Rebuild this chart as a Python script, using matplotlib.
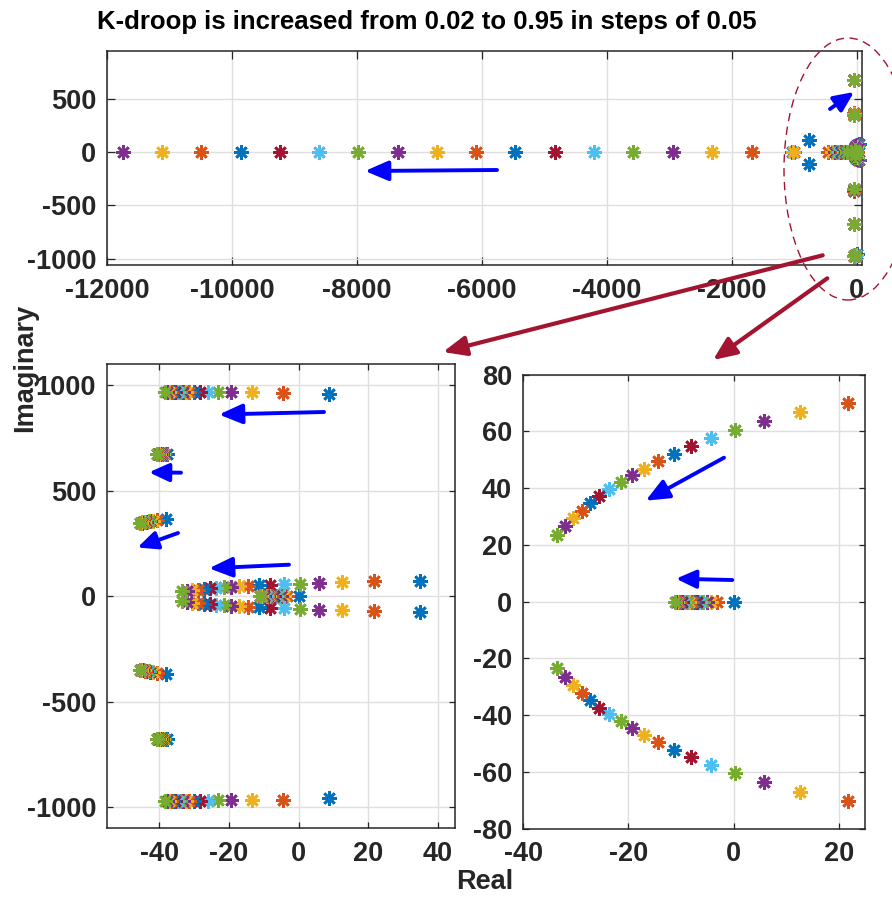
import numpy as np
import matplotlib
matplotlib.use('Agg')
import matplotlib.pyplot as plt
from matplotlib.patches import FancyArrowPatch, Ellipse

plt.rcParams['font.family'] = ['Liberation Sans', 'DejaVu Sans']
plt.rcParams['font.weight'] = 'bold'
plt.rcParams['axes.unicode_minus'] = False

# K-droop sweep (one colour per value, MATLAB colour order)
k_droop = [0.02, 0.07, 0.12, 0.17, 0.22, 0.27, 0.32, 0.37, 0.42, 0.47,
           0.52, 0.57, 0.62, 0.67, 0.72, 0.77, 0.82, 0.87, 0.92]

# fast real pole, moves far to the left
fast_re = [-1030, -1672, -2312, -2948, -3577, -4207, -4836, -5466, -6096, -6721,
           -7350, -7980, -8605, -9235, -9864, -10495, -11120, -11749, -12380]

# pair that splits on the real axis (K1 complex, then real)
split_re_a = [-764, -1005, -1015] + [np.nan] * 16
split_im_a = [110, 0, 0] + [np.nan] * 16
split_re_b = [-764, -455, -400, -350, -310, -280, -255, -235, -220, -205,
              -195, -185, -178, -171, -165, -160, -156, -152, -150]
split_im_b = [-110] + [0] * 18

# complex pair near +/-970
hf_re = [8.9, -4.5, -13.4, -19.5, -23.3, -26.1, -28.3, -30.2, -31.4, -32.4,
         -33.3, -34.1, -34.8, -35.5, -36.1, -36.7, -37.3, -37.9, -38.4]
hf_im = [957, 966, 967, 968, 968, 969, 969, 969, 969, 969,
         969, 969, 969, 969, 969, 969, 969, 969, 969]

# complex pair near +/-680
p680_re = [-37.9, -38.6, -39.0, -39.3, -39.5, -39.7, -39.9, -40.0, -40.1, -40.2,
           -40.3, -40.35, -40.4, -40.45, -40.5, -40.55, -40.6, -40.65, -40.7]
p680_im = [677, 677, 677, 677, 677, 677, 677, 676, 676, 676,
           676, 676, 676, 676, 676, 676, 676, 676, 676]

# complex pair near +/-360
p360_re = [-38.2, -40.8, -41.9, -42.6, -43.1, -43.5, -43.8, -44.1, -44.3, -44.5,
           -44.7, -44.85, -45.0, -45.1, -45.2, -45.3, -45.4, -45.5, -45.6]
p360_im = [367, 362, 359, 357, 355, 354, 353, 352.5, 352, 351.5,
           351, 350.5, 350, 349.6, 349.3, 349, 348.7, 348.4, 348]

# low-frequency oscillatory pair
osc_re = [35.0, 21.7, 12.6, 5.8, 0.3, -4.2, -8.1, -11.4, -14.4, -17.0,
          -19.4, -21.5, -23.7, -25.6, -27.3, -28.9, -30.5, -32.0, -33.5]
osc_im = [74, 70.2, 66.9, 63.6, 60.5, 57.6, 54.8, 52.1, 49.5, 46.9,
          44.6, 42.1, 39.7, 37.3, 34.8, 32.0, 29.4, 26.6, 23.4]

# slow real pole near origin
slow_re = [0, -3.2, -4.3, -5.1, -5.8, -6.4, -7.0, -7.5, -8.0, -8.4,
           -8.8, -8.95, -9.4, -9.8, -10.1, -10.4, -10.7, -11.0, -11.2]

colors = ['#0072BD', '#D95319', '#EDB120', '#7E2F8E', '#77AC30', '#4DBEEE', '#A2142F']

W, H = 892, 898
fig = plt.figure(figsize=(W / 100, H / 100), dpi=100)

def px(x, y):
    return (x / W, 1 - y / H)

def box(l, t, r, b):
    return [l / W, 1 - b / H, (r - l) / W, (b - t) / H]

ax_top = fig.add_axes(box(107.3, 50.7, 861.7, 265.3))
ax_bl = fig.add_axes(box(107.3, 364.3, 455, 828.3))
ax_br = fig.add_axes(box(523.3, 374.7, 865, 828.7))

limits = {
    ax_top: ((-12000, 80), (-1060, 948)),
    ax_bl: ((-55, 45), (-1100, 1100)),
    ax_br: ((-40, 25), (-80, 80)),
}

for i in range(len(k_droop)):
    re = np.array([fast_re[i], split_re_a[i], split_re_b[i],
                   hf_re[i], hf_re[i], p680_re[i], p680_re[i], p360_re[i], p360_re[i],
                   osc_re[i], osc_re[i], slow_re[i]])
    im = np.array([0, split_im_a[i], split_im_b[i],
                   hf_im[i], -hf_im[i], p680_im[i], -p680_im[i], p360_im[i], -p360_im[i],
                   osc_im[i], -osc_im[i], 0])
    for ax, (xl, yl) in limits.items():
        # like MATLAB: drop points outside the axes, draw the rest unclipped
        ok = (re >= xl[0]) & (re <= xl[1]) & (im >= yl[0]) & (im <= yl[1])
        ax.plot(re[ok], im[ok], linestyle='none', marker=(8, 2, 0), ms=10.5, mew=1.9,
                color=colors[i % 7], zorder=3, clip_on=False)

def style(ax, xticks, yticks, tlen):
    xl, yl = limits[ax]
    ax.set_xlim(xl)
    ax.set_ylim(yl)
    ax.set_xticks(xticks)
    ax.set_yticks(yticks)
    ax.grid(True, color='#dfdfdf', linewidth=1.0, zorder=0)
    ax.set_axisbelow(True)
    ax.tick_params(direction='in', top=True, right=True, length=tlen, width=0.9,
                   color='#262626', labelcolor='#262626', labelsize=19.5)
    ax.tick_params(axis='y', pad=8)
    ax.tick_params(axis='x', pad=9)
    for s in ax.spines.values():
        s.set_color('#262626')
        s.set_linewidth(1.1)
    for lab in ax.get_xticklabels() + ax.get_yticklabels():
        lab.set_fontweight('bold')

style(ax_top, range(-12000, 1, 2000), [-1000, -500, 0, 500], 6)
style(ax_bl, [-40, -20, 0, 20, 40], [-1000, -500, 0, 500, 1000], 4)
style(ax_br, [-40, -20, 0, 20], range(-80, 81, 20), 4)

fig.text(427 / W, 1 - 22 / H, 'K-droop is increased from 0.02 to 0.95 in steps of 0.05',
         ha='center', va='center', fontsize=18.5, fontweight='bold', color='black')
fig.text(25 / W, 1 - 368 / H, 'Imaginary', rotation=90, ha='center', va='center',
         fontsize=19.5, fontweight='bold', color='#262626')
fig.text(485 / W, 1 - 882 / H, 'Real', ha='center', va='center',
         fontsize=19.5, fontweight='bold', color='#262626')

def arrow(x0, y0, x1, y1, color, lw, hl, hw):
    a = FancyArrowPatch(px(x0, y0), px(x1, y1), transform=fig.transFigure,
                        arrowstyle='-|>,head_length=%g,head_width=%g' % (hl, hw),
                        color=color, linewidth=lw, shrinkA=0, shrinkB=0,
                        mutation_scale=1, zorder=10)
    fig.add_artist(a)

blue = '#0000FF'
arrow(497, 170, 365, 171, blue, 2.8, 14, 6)
arrow(830, 109, 854, 92, blue, 2.8, 12, 5.5)
arrow(324, 412, 219, 414.5, blue, 2.8, 14, 6)
arrow(181, 472.7, 149, 472.3, blue, 2.8, 12, 5.5)
arrow(178, 533, 137.5, 547.5, blue, 2.8, 12, 5.5)
arrow(289, 564.7, 209, 568.3, blue, 2.8, 14, 6)
arrow(724, 457.7, 645.7, 500.7, blue, 2.8, 14, 6)
arrow(732.3, 580, 676, 578.7, blue, 2.8, 12, 5.5)

dred = '#A2142F'
arrow(822.7, 255.3, 443, 352, dred, 3.0, 14, 6)
arrow(827.3, 278.3, 713, 360, dred, 3.0, 14, 6)

ell = Ellipse(px(848, 169), 128 / W, 262 / H, transform=fig.transFigure,
              fill=False, edgecolor=dred, linewidth=1.0, linestyle=(0, (6, 4)), zorder=10)
fig.add_artist(ell)

fig.savefig('out.png', dpi=100)
